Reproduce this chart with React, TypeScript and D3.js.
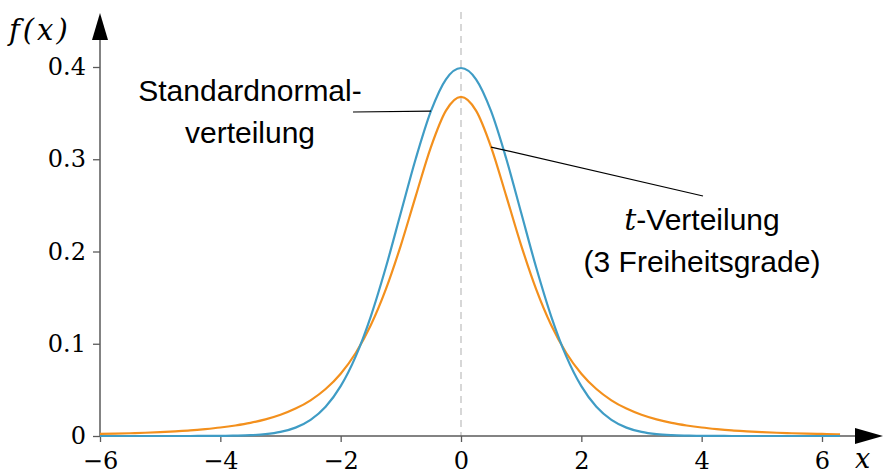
import { useEffect, useRef } from "react"
import * as d3 from "d3"

// x positions of the sampled density values
const xs = [
  -6, -5.75, -5.5, -5.25, -5, -4.75, -4.5, -4.25, -4, -3.75, -3.5, -3.25, -3, -2.75, -2.5, -2.25, -2, -1.75, -1.5,
  -1.25, -1, -0.75, -0.5, -0.25, 0, 0.25, 0.5, 0.75, 1, 1.25, 1.5, 1.75, 2, 2.25, 2.5, 2.75, 3, 3.25, 3.5, 3.75, 4,
  4.25, 4.5, 4.75, 5, 5.25, 5.5, 5.75, 6, 6.25, 6.3,
]

// standard normal density
const normalValues = [
  0, 0, 0, 0, 0, 0, 0, 0.0001, 0.0001, 0.0004, 0.0009, 0.002, 0.0044, 0.0091, 0.0175, 0.0317, 0.054, 0.0863, 0.1295,
  0.1826, 0.242, 0.3011, 0.3521, 0.3867, 0.3989, 0.3867, 0.3521, 0.3011, 0.242, 0.1826, 0.1295, 0.0863, 0.054, 0.0317,
  0.0175, 0.0091, 0.0044, 0.002, 0.0009, 0.0004, 0.0001, 0.0001, 0, 0, 0, 0, 0, 0, 0, 0, 0,
]

// t-distribution, 3 degrees of freedom
const tValues = [
  0.0022, 0.0025, 0.003, 0.0035, 0.0042, 0.0051, 0.0061, 0.0075, 0.0092, 0.0114, 0.0142, 0.018, 0.023, 0.0297, 0.0387,
  0.0509, 0.0675, 0.09, 0.12, 0.1589, 0.2067, 0.2606, 0.3132, 0.3527, 0.3676, 0.3527, 0.3132, 0.2606, 0.2067, 0.1589,
  0.12, 0.09, 0.0675, 0.0509, 0.0387, 0.0297, 0.023, 0.018, 0.0142, 0.0114, 0.0092, 0.0075, 0.0061, 0.0051, 0.0042,
  0.0035, 0.003, 0.0025, 0.0022, 0.0019, 0.0018,
]

const xTicks = [-6, -4, -2, 0, 2, 4, 6]
const yTicks = [0, 0.1, 0.2, 0.3, 0.4]

const BLUE = "#3f9cc5"
const ORANGE = "#f3901d"
const AXIS = "#5a5a5a"

export default function App() {
  const svgRef = useRef<SVGSVGElement>(null)

  useEffect(() => {
    if (!svgRef.current) return
    const svg = d3.select(svgRef.current)
    svg.selectAll("*").remove()

    const x = d3.scaleLinear().domain([-6, 6]).range([100, 822])
    const y = d3.scaleLinear().domain([0, 0.4]).range([436, 67])

    // dashed line at x = 0
    svg
      .append("line")
      .attr("x1", x(0))
      .attr("x2", x(0))
      .attr("y1", 12)
      .attr("y2", y(0))
      .attr("stroke", "#bdbdbd")
      .attr("stroke-width", 1.2)
      .attr("stroke-dasharray", "7,5")

    // axes lines
    svg
      .append("line")
      .attr("x1", x(-6))
      .attr("x2", 858)
      .attr("y1", y(0))
      .attr("y2", y(0))
      .attr("stroke", AXIS)
      .attr("stroke-width", 1.5)
    svg
      .append("line")
      .attr("x1", x(-6))
      .attr("x2", x(-6))
      .attr("y1", y(0))
      .attr("y2", 38)
      .attr("stroke", AXIS)
      .attr("stroke-width", 1.5)

    // arrowheads
    svg.append("path").attr("d", `M855,${y(0) - 8}L883,${y(0)}L855,${y(0) + 8}Z`).attr("fill", "#000")
    svg.append("path").attr("d", `M${x(-6) - 8},40L${x(-6)},13L${x(-6) + 8},40Z`).attr("fill", "#000")

    const gx = svg
      .append("g")
      .attr("transform", `translate(0,${y(0)})`)
      .call(d3.axisBottom(x).tickValues(xTicks).tickSize(6).tickPadding(10).tickFormat(d3.format("d")))
    gx.select(".domain").remove()
    gx.selectAll("line").attr("stroke", AXIS).attr("stroke-width", 1.3)
    gx.selectAll("text").attr("font-family", "DejaVu Serif").attr("font-size", 24).attr("fill", "#000")

    const gy = svg
      .append("g")
      .attr("transform", `translate(${x(-6)},0)`)
      .call(
        d3
          .axisLeft(y)
          .tickValues(yTicks)
          .tickSize(7)
          .tickPadding(7)
          .tickFormat((d) => (d === 0 ? "0" : d3.format(".1f")(d as number)))
      )
    gy.select(".domain").remove()
    gy.selectAll("line").attr("stroke", AXIS).attr("stroke-width", 1.3)
    gy.selectAll("text").attr("font-family", "DejaVu Serif").attr("font-size", 24).attr("fill", "#000")

    // curves
    const line = d3
      .line<number>()
      .x((_, i) => x(xs[i]))
      .y((d) => y(d))
      .curve(d3.curveMonotoneX)

    svg
      .append("path")
      .attr("d", line(tValues))
      .attr("fill", "none")
      .attr("stroke", ORANGE)
      .attr("stroke-width", 2.2)
    svg
      .append("path")
      .attr("d", line(normalValues))
      .attr("fill", "none")
      .attr("stroke", BLUE)
      .attr("stroke-width", 2.2)

    // axis labels
    svg
      .append("text")
      .attr("x", 9)
      .attr("y", 40)
      .attr("font-family", "DejaVu Serif")
      .attr("font-style", "italic")
      .attr("font-size", 29)
      .attr("letter-spacing", 3)
      .text("f(x)")
    svg
      .append("text")
      .attr("x", 855)
      .attr("y", 468)
      .attr("font-family", "DejaVu Serif")
      .attr("font-style", "italic")
      .attr("font-size", 27)
      .text("x")

    // annotations
    const ann = svg.append("g").attr("font-family", "Liberation Sans").attr("font-size", 30).attr("fill", "#000")
    ann.append("text").attr("x", 250).attr("y", 101).attr("text-anchor", "middle").text("Standardnormal-")
    ann.append("text").attr("x", 250).attr("y", 143).attr("text-anchor", "middle").text("verteilung")
    const t1 = ann.append("text").attr("x", 702).attr("y", 230).attr("text-anchor", "middle")
    t1.append("tspan").attr("font-family", "DejaVu Serif").attr("font-style", "italic").text("t")
    t1.append("tspan").text("-Verteilung")
    ann.append("text").attr("x", 702).attr("y", 272).attr("text-anchor", "middle").text("(3 Freiheitsgrade)")

    svg
      .append("line")
      .attr("x1", 353)
      .attr("y1", 112)
      .attr("x2", x(-0.5))
      .attr("y2", y(0.3521))
      .attr("stroke", "#000")
      .attr("stroke-width", 1.2)
    svg
      .append("line")
      .attr("x1", x(0.5))
      .attr("y1", y(0.3132))
      .attr("x2", 703)
      .attr("y2", 196)
      .attr("stroke", "#000")
      .attr("stroke-width", 1.2)
  }, [])

  return (
    <svg
      ref={svgRef}
      width={883}
      height={475}
      style={{ position: "absolute", left: 0, top: 0, background: "#fff" }}
    ></svg>
  )
}
